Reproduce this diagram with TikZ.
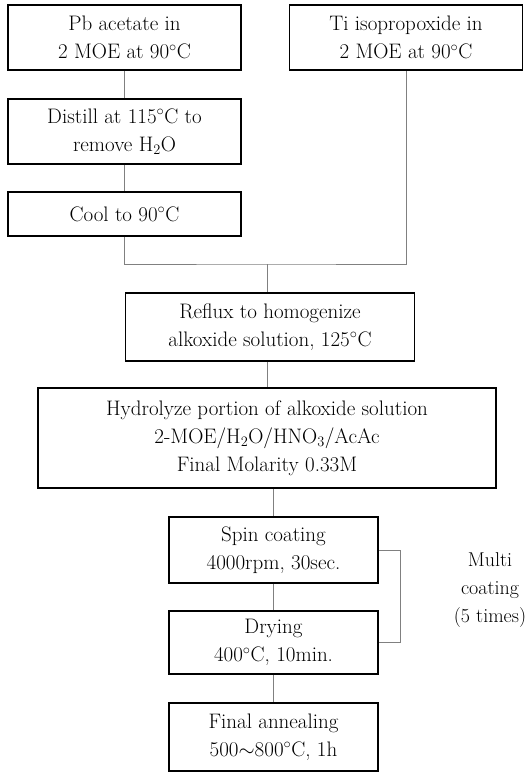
\documentclass[tikz,border=0pt]{standalone}
\usepackage{fontspec}
\usetikzlibrary{calc}

\begin{document}
\begin{tikzpicture}
        [x=1pt, y=-1pt,
        box/.style={draw, line width=1.6pt, align=center, inner sep=0pt, font=\fontsize{21}{28}\selectfont\addfontfeatures{LetterSpace=4}},
        link/.style={gray, line width=0.6pt},
        note/.style={align=center, font=\fontsize{20}{28}\selectfont}]

        \useasboundingbox (0,0) rectangle (531,773);

        % boxes
        \node[box, minimum width=233pt, minimum height=65pt] (pb) at (124.5,37.5) {Pb acetate in\\2 MOE at 90$^\circ$C};
        \node[box, minimum width=233pt, minimum height=65pt] (ti) at (406,37.5) {Ti isopropoxide in\\2 MOE at 90$^\circ$C};
        \node[box, minimum width=233pt, minimum height=65pt] (distill) at (124.5,131.5) {Distill at 115$^\circ$C to\\remove H$_2$O};
        \node[box, minimum width=233pt, minimum height=44pt] (cool) at (124.5,214) {Cool to 90$^\circ$C};
        \node[box, minimum width=289pt, minimum height=68pt] (reflux) at (270,327) {Reflux to homogenize\\alkoxide solution, 125$^\circ$C};
        \node[box, minimum width=458pt, minimum height=100pt] (hydro) at (267,438) {Hydrolyze portion of alkoxide solution\\2-MOE/H$_2$O/HNO$_3$/AcAc\\Final Molarity 0.33M};
        \node[box, minimum width=209pt, minimum height=66pt] (spin) at (273.5,550) {Spin coating\\4000rpm, 30sec.};
        \node[box, minimum width=209pt, minimum height=63pt] (dry) at (273.5,642.5) {Drying\\400$^\circ$C, 10min.};
        \node[box, minimum width=209pt, minimum height=68pt] (final) at (273.5,737) {Final annealing\\500$\sim$800$^\circ$C, 1h};

        % side label
        \node[note] (multi) at (490,590) {Multi\\coating\\(5 times)};

        % connectors
        \coordinate (j) at (267,264);
        \draw[link] (pb) -- (distill);
        \draw[link] (distill) -- (cool);
        \draw[link] (cool.south) |- (j) -| (ti.south);
        \draw[link] (j) -- (j |- reflux.north);
        \draw[link] (reflux.south -| hydro.north) -- (hydro.north);
        \draw[link] (hydro.south -| spin.north) -- (spin.north);
        \draw[link] (spin) -- (dry);
        \draw[link] (dry) -- (final);
        \draw[link] (spin.east) -- ++(21,0) |- (dry.east);

\end{tikzpicture}
\end{document}
